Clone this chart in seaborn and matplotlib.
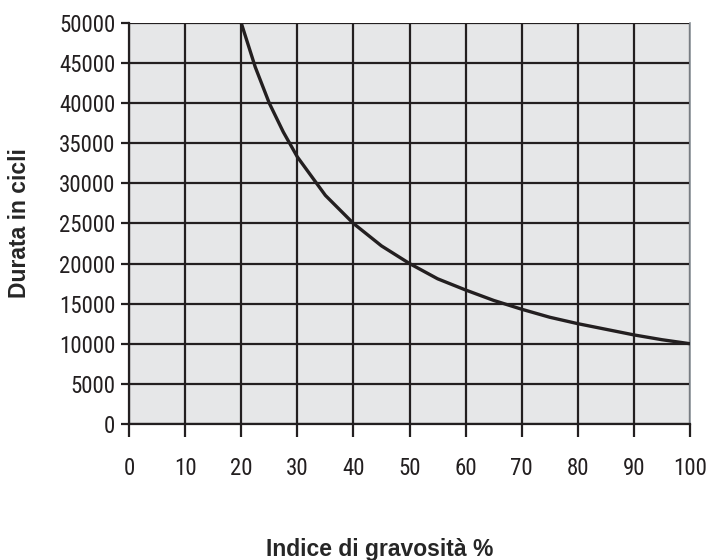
import matplotlib
matplotlib.use("Agg")
import matplotlib.pyplot as plt
from matplotlib import font_manager
import seaborn as sns
import pandas as pd

gravosita = [20, 22.5, 25, 27.5, 30, 35, 40, 45, 50, 55, 60, 65, 70, 75, 80, 85, 90, 95, 100]
cicli = [50000, 44500, 40000, 36400, 33300, 28500, 25000, 22200, 20000, 18100,
         16700, 15400, 14300, 13300, 12500, 11800, 11100, 10500, 10000]
x_ticks = list(range(0, 101, 10))
y_ticks = list(range(0, 50001, 5000))


def pick_narrow():
    names = {f.name for f in font_manager.fontManager.ttflist}
    for cand in ["Liberation Sans Narrow", "DejaVu Sans Condensed", "Roboto Condensed",
                 "Open Sans Condensed"]:
        if cand in names:
            return cand, 16.5
    return "Liberation Sans", 13


def main():
    sns.set_style("white")
    narrow, tick_size = pick_narrow()
    plt.rcParams["font.family"] = [narrow, "DejaVu Sans"]

    df = pd.DataFrame({"x": gravosita, "y": cicli})

    fig = plt.figure(figsize=(7.07, 5.6), dpi=100)
    ax = fig.add_axes([0.1825, 0.243, 0.7935, 0.716])
    ax.set_facecolor("#e6e7e8")

    sns.lineplot(data=df, x="x", y="y", color="#231f20", linewidth=2.4, ax=ax, zorder=3)

    ax.set_xlim(0, 100)
    ax.set_ylim(0, 50000)
    ax.set_xticks(x_ticks)
    ax.set_yticks(y_ticks)
    ax.grid(True, color="#231f20", linewidth=1.6, zorder=1)
    ax.set_axisbelow(True)

    ax.tick_params(axis="x", direction="out", length=9, width=1.6, color="#231f20",
                   pad=15, labelsize=tick_size, labelcolor="#231f20", bottom=True)
    ax.tick_params(axis="y", direction="out", length=6, width=1.6, color="#231f20",
                   pad=4, labelsize=tick_size, labelcolor="#231f20", left=True)

    for side in ["left", "bottom"]:
        ax.spines[side].set_color("#231f20")
        ax.spines[side].set_linewidth(1.6)
    ax.spines["top"].set_visible(False)
    ax.spines["right"].set_color("#8a9197")
    ax.spines["right"].set_linewidth(1.2)

    ax.set_xlabel("Indice di gravosità %", family=["Liberation Sans", "DejaVu Sans"],
                  fontsize=16.5, fontweight="bold")
    ax.set_ylabel("Durata in cicli", family=["Liberation Sans", "DejaVu Sans"],
                  fontsize=16.5, fontweight="bold")
    ax.xaxis.set_label_coords(0.447, -0.284)
    ax.yaxis.set_label_coords(-0.175, 0.5)

    plt.savefig("out.png", dpi=100)


if __name__ == "__main__":
    main()
